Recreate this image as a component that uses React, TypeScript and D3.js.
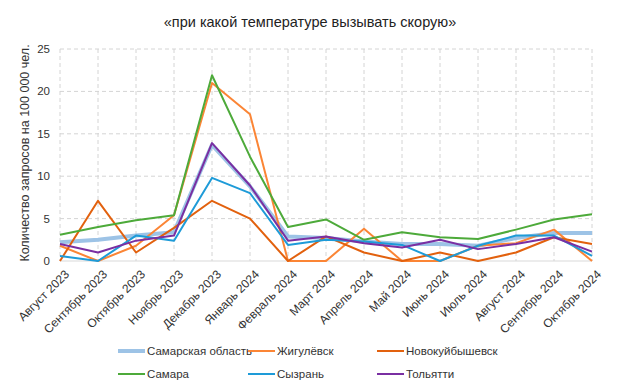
import { useEffect, useRef } from "react"
import * as d3 from "d3"

const months = [
  "Август 2023", "Сентябрь 2023", "Октябрь 2023", "Ноябрь 2023", "Декабрь 2023",
  "Январь 2024", "Февраль 2024", "Март 2024", "Апрель 2024", "Май 2024",
  "Июнь 2024", "Июль 2024", "Август 2024", "Сентябрь 2024", "Октябрь 2024",
]

const samarskayaOblast = [2.2, 2.5, 3.0, 3.4, 13.7, 8.8, 2.9, 2.7, 2.3, 2.0, 2.0, 1.8, 2.7, 3.3, 3.3]
const zhigulevsk = [1.8, 0, 1.8, 5.4, 21.0, 17.3, 0, 0, 3.8, 0, 0, 1.8, 2.1, 3.7, 0]
const novokuibyshevsk = [0, 7.1, 1.0, 3.9, 7.1, 5.0, 0, 2.9, 1.0, 0, 1.0, 0, 1.0, 2.8, 2.0]
const samara = [3.1, 4.0, 4.8, 5.4, 21.9, 12.3, 4.0, 4.9, 2.5, 3.4, 2.8, 2.6, 3.7, 4.9, 5.5]
const syzran = [0.6, 0, 3.0, 2.4, 9.8, 8.0, 1.9, 2.5, 2.3, 1.9, 0, 1.8, 3.0, 3.0, 0.6]
const tolyatti = [2.0, 1.0, 2.4, 3.0, 13.9, 8.9, 2.4, 2.9, 2.1, 1.6, 2.5, 1.4, 2.0, 2.8, 1.1]

const yTicks = [0, 5, 10, 15, 20, 25]

const series = [
  { name: "Самарская область", values: samarskayaOblast, color: "#9DC3E6", width: 4 },
  { name: "Жигулёвск", values: zhigulevsk, color: "#FB8535", width: 2 },
  { name: "Новокуйбышевск", values: novokuibyshevsk, color: "#E2610E", width: 2 },
  { name: "Самара", values: samara, color: "#4DAA3A", width: 2 },
  { name: "Сызрань", values: syzran, color: "#1E9BD8", width: 2 },
  { name: "Тольятти", values: tolyatti, color: "#7A2FA2", width: 2 },
]

export default function App() {
  const svgRef = useRef<SVGSVGElement>(null)

  useEffect(() => {
    document.body.style.margin = "0"
    const width = 617, height = 392
    const font = "'Liberation Sans', Arial, sans-serif"

    const svg = d3.select(svgRef.current)
    svg.selectAll("*").remove()
    svg.attr("width", width).attr("height", height)
      .style("font-family", font)

    svg.append("rect").attr("width", width).attr("height", height).attr("fill", "#fff")

    const x = d3.scalePoint<string>().domain(months).range([60, 592])
    const y = d3.scaleLinear().domain([0, 25]).range([261, 49])

    // title
    svg.append("text")
      .attr("x", 310).attr("y", 27)
      .attr("text-anchor", "middle")
      .style("font-size", "14.5px")
      .attr("fill", "#222")
      .text("«при какой температуре вызывать скорую»")

    // grid
    svg.append("g").selectAll("line")
      .data(yTicks.filter(d => d > 0))
      .join("line")
        .attr("x1", 60).attr("x2", 592)
        .attr("y1", d => y(d)).attr("y2", d => y(d))
        .attr("stroke", "#D4D4D4").attr("stroke-dasharray", "4,3")

    svg.append("g").selectAll("line")
      .data(months)
      .join("line")
        .attr("x1", d => x(d)!).attr("x2", d => x(d)!)
        .attr("y1", y(25)).attr("y2", y(0))
        .attr("stroke", "#D4D4D4").attr("stroke-dasharray", "4,3")

    svg.append("line")
      .attr("x1", 60).attr("x2", 592)
      .attr("y1", y(0)).attr("y2", y(0))
      .attr("stroke", "#D9D9D9")

    // y ticks
    svg.append("g").selectAll("text")
      .data(yTicks)
      .join("text")
        .attr("x", 50).attr("y", d => y(d) + 4)
        .attr("text-anchor", "end")
        .style("font-size", "11.5px")
        .attr("fill", "#333")
        .text(d => d)

    // y-axis label
    svg.append("text")
      .attr("transform", `translate(29, ${(y(0) + y(25)) / 2 - 2}) rotate(-90)`)
      .attr("text-anchor", "middle")
      .style("font-size", "12.5px")
      .attr("fill", "#333")
      .text("Количество запросов на 100 000 чел.")

    // x labels
    svg.append("g").selectAll("text")
      .data(months)
      .join("text")
        .attr("transform", d => `translate(${x(d)! + 4}, ${y(0) + 8}) rotate(-45)`)
        .attr("text-anchor", "end")
        .attr("dy", "0.7em")
        .style("font-size", "12px")
        .attr("fill", "#333")
        .text(d => d)

    // lines
    const line = d3.line<number>()
      .x((_, i) => x(months[i])!)
      .y(d => y(d))

    svg.append("g").selectAll("path")
      .data(series)
      .join("path")
        .attr("d", d => line(d.values))
        .attr("fill", "none")
        .attr("stroke", d => d.color)
        .attr("stroke-width", d => d.width)
        .attr("stroke-linejoin", "round")

    // legend
    const colX = [118, 248, 377]
    const rowY = [351, 374]
    const legend = svg.append("g").selectAll("g")
      .data(series)
      .join("g")
        .attr("transform", (_, i) => `translate(${colX[i % 3]}, ${rowY[Math.floor(i / 3)]})`)
    legend.append("line")
      .attr("x1", 0).attr("x2", 27)
      .attr("stroke", d => d.color)
      .attr("stroke-width", d => d.width)
    legend.append("text")
      .attr("x", 29).attr("y", 4)
      .style("font-size", "11.5px")
      .attr("fill", "#333")
      .text(d => d.name)
  }, [])

  return <svg ref={svgRef} style={{ display: "block" }}></svg>
}
